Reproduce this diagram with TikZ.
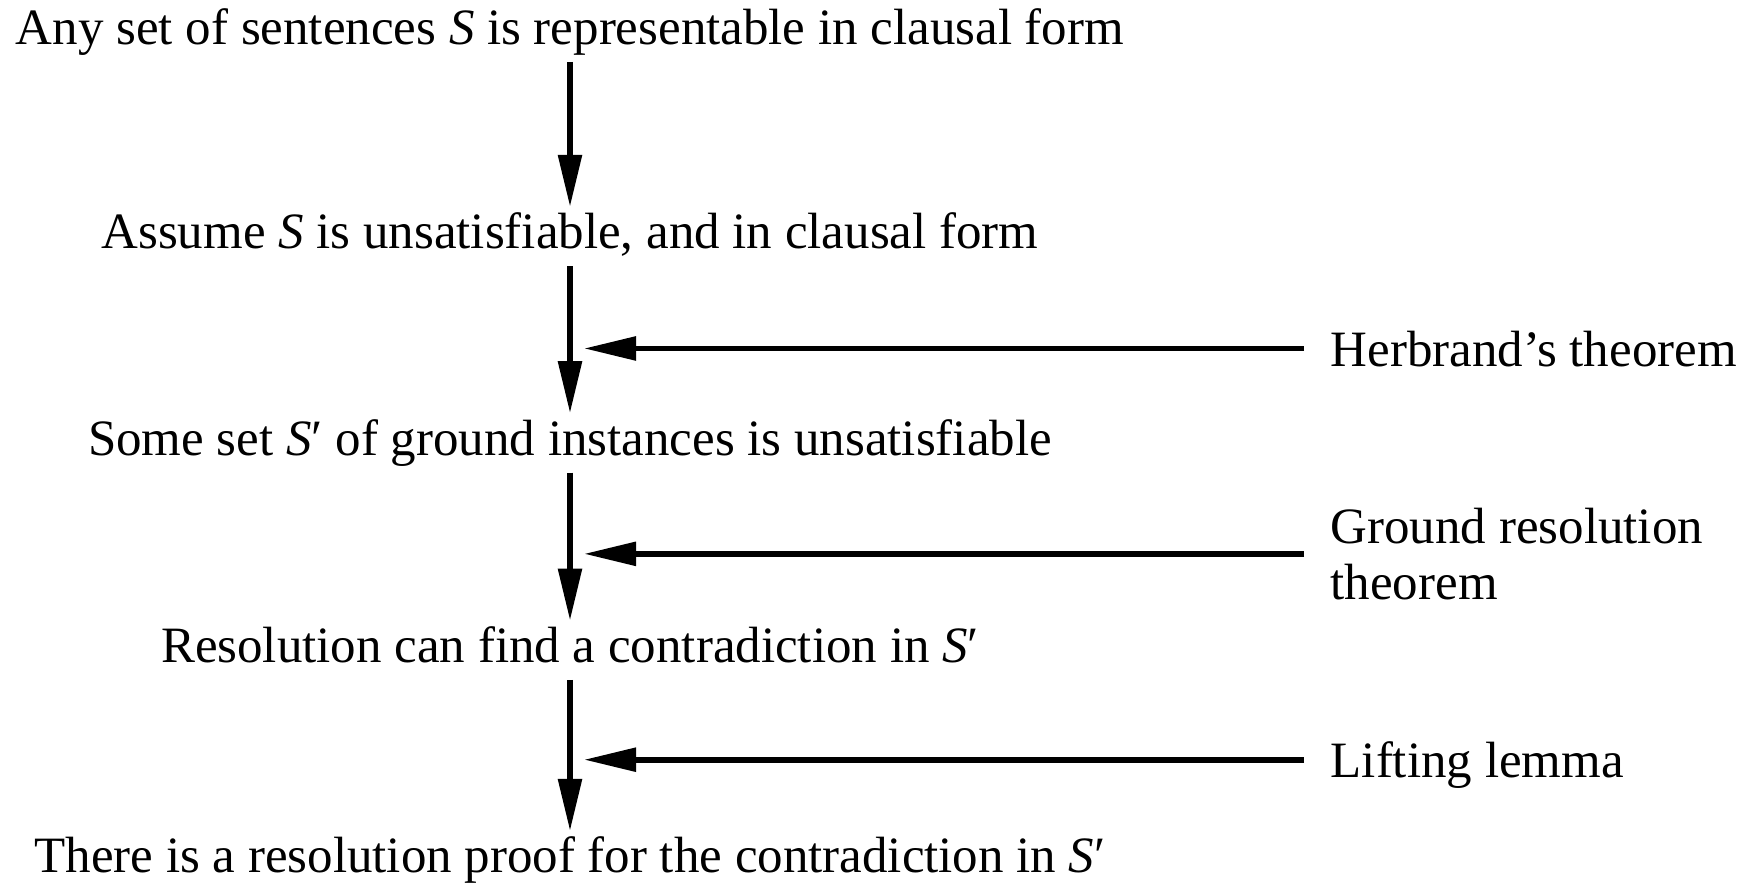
\documentclass[tikz,border=0pt]{standalone}
\usepackage{fontspec}
\setmainfont{Liberation Serif}
\usetikzlibrary{arrows.meta,positioning,calc}

\begin{document}
\begin{tikzpicture}[
    stmt/.style={font=\fontsize{14.5}{17}\selectfont,inner sep=0pt,
      text height=10.9pt,text depth=3.6pt},
    note/.style={font=\fontsize{14.5}{16}\selectfont,align=left,
      inner xsep=0.26cm,inner ysep=0pt,text depth=0pt},
    flow/.style={-{Triangle[length=0.52cm,width=0.23cm]},line width=1.6pt}
  ]
  \useasboundingbox (0,0) rectangle (17.43,8.85);
  \node[stmt,anchor=base] (anyset) at (5.70,8.405)
    {Any set of sentences \textit{S} is representable in clausal form};
  \node[stmt,below=1.52cm of anyset] (assume)
    {Assume \textit{S} is unsatisfiable, and in clausal form};
  \node[stmt,below=1.54cm of assume] (ground)
    {Some set \textit{S}′ of ground instances is unsatisfiable};
  \node[stmt,below=1.55cm of ground] (resol)
    {Resolution can find a contradiction in \textit{S}′};
  \node[stmt,below=1.58cm of resol] (proof)
    {There is a resolution proof for the contradiction in \textit{S}′};
  \draw[flow,shorten <=0.04cm,shorten >=0.03cm] (anyset) -- (assume);
  \draw[flow,shorten <=0.04cm,shorten >=0.03cm] (assume) -- (ground);
  \draw[flow,shorten <=0.04cm,shorten >=0.03cm] (ground) -- (resol);
  \draw[flow,shorten <=0.04cm,shorten >=0.03cm] (resol) -- (proof);
  \coordinate (herbtip) at ($(assume.south)!0.56!(ground.north)+(0.14,0)$);
  \coordinate (groundtip) at ($(ground.south)!0.55!(resol.north)+(0.14,0)$);
  \coordinate (lifttip) at ($(resol.south)!0.53!(proof.north)+(0.14,0)$);
  \node[note,right=7.2cm of herbtip] (herbrand) {Herbrand’s theorem};
  \node[note,right=7.2cm of groundtip] (groundres) {Ground resolution\\theorem};
  \node[note,right=7.2cm of lifttip] (lifting) {Lifting lemma};
  \draw[flow] (herbrand) -- (herbtip);
  \draw[flow] (groundres) -- (groundtip);
  \draw[flow] (lifting) -- (lifttip);
\end{tikzpicture}
\end{document}
